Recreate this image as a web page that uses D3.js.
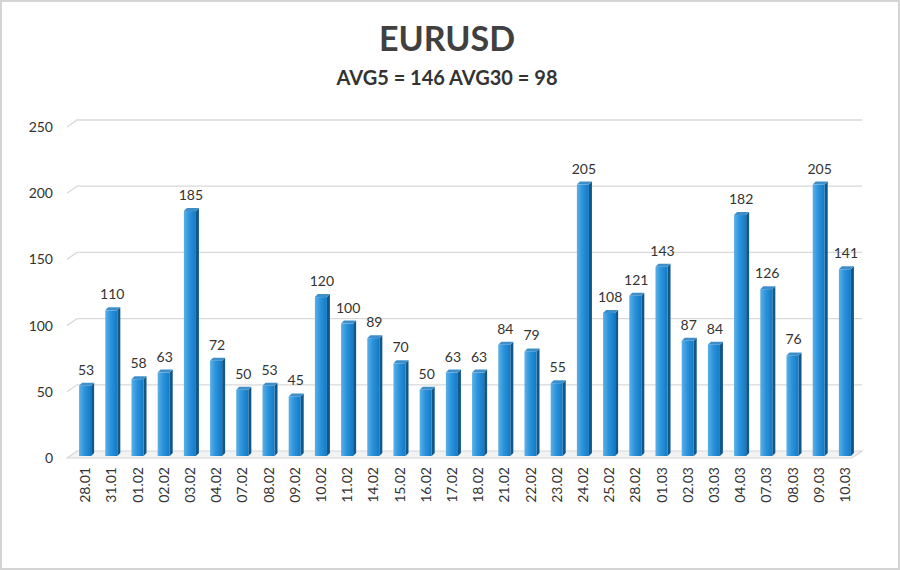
<!DOCTYPE html>
<html>
<head>
<meta charset="utf-8">
<script src="https://cdn.jsdelivr.net/npm/d3@7"></script>
<style>
  body { margin: 0; background: #fff; }
  svg { display: block; }
</style>
</head>
<body>
<script>
// data
var dates = ["28.01","31.01","01.02","02.02","03.02","04.02","07.02","08.02","09.02","10.02",
             "11.02","14.02","15.02","16.02","17.02","18.02","21.02","22.02","23.02","24.02",
             "25.02","28.02","01.03","02.03","03.03","04.03","07.03","08.03","09.03","10.03"];
var values = [53,110,58,63,185,72,50,53,45,120,
              100,89,70,50,63,63,84,79,55,205,
              108,121,143,87,84,182,126,76,205,141];
var yTicks = [0,50,100,150,200,250];
var title = "EURUSD";
var subtitle = "AVG5 = 146 AVG30 = 98";

var W = 900, H = 570;
var font = "Lato, 'Open Sans', sans-serif";

var svg = d3.select("body").append("svg")
    .attr("width", W)
    .attr("height", H);

// frame
svg.append("rect")
    .attr("x", 1).attr("y", 1)
    .attr("width", W - 2).attr("height", H - 2)
    .attr("fill", "#fff")
    .attr("stroke", "#d4d4d4")
    .attr("stroke-width", 2);

// gradient for the bar fronts
var defs = svg.append("defs");
var gFront = defs.append("linearGradient").attr("id", "front")
    .attr("x1", 0).attr("x2", 1).attr("y1", 0).attr("y2", 0);
gFront.append("stop").attr("offset", "0%").attr("stop-color", "#5db0e6");
gFront.append("stop").attr("offset", "45%").attr("stop-color", "#2b93dc");
gFront.append("stop").attr("offset", "100%").attr("stop-color", "#1479c4");

// titles
svg.append("text")
    .attr("x", 447).attr("y", 51)
    .attr("text-anchor", "middle")
    .attr("font-family", font)
    .attr("font-weight", "bold")
    .attr("font-size", 34)
    .attr("fill", "#404040")
    .text(title);

svg.append("text")
    .attr("x", 447).attr("y", 85)
    .attr("text-anchor", "middle")
    .attr("font-family", font)
    .attr("font-weight", "bold")
    .attr("font-size", 20)
    .attr("fill", "#333")
    .text(subtitle);

// scales
var x = d3.scaleBand()
    .domain(dates)
    .range([72, 858])
    .paddingInner(0.54)
    .paddingOuter(0.27);

var y = d3.scaleLinear()
    .domain([0, 250])
    .range([451, 120]);

var dx = 10, dy = 7; // depth offset of the back wall

// floor
svg.append("path")
    .attr("d", "M" + (77 - dx) + "," + (y(0) + dy) + "L77," + y(0) + "L862," + y(0) +
               "L" + (862 - dx) + "," + (y(0) + dy) + "Z")
    .attr("fill", "#f3f3f3")
    .attr("stroke", "#d6d6d6")
    .attr("stroke-width", 1.2);

// grid lines
svg.selectAll("path.grid")
    .data(yTicks.filter(function(d) { return d > 0; }))
    .enter()
    .append("path")
    .attr("class", "grid")
    .attr("d", function(d) {
        return "M" + (77 - dx) + "," + (y(d) + dy) + "L77," + y(d) + "L862," + y(d);
    })
    .attr("fill", "none")
    .attr("stroke", "#d9d9d9")
    .attr("stroke-width", 1.3);

// y tick labels
svg.selectAll("text.ytick")
    .data(yTicks)
    .enter()
    .append("text")
    .attr("class", "ytick")
    .attr("x", 53)
    .attr("y", function(d) { return y(d) + dy + 5; })
    .attr("text-anchor", "end")
    .attr("font-family", font)
    .attr("font-size", 14)
    .attr("fill", "#333")
    .text(function(d) { return d; });

// bars
var bw = x.bandwidth();
var side = 3, lift = 3;
var bars = svg.selectAll("g.bar")
    .data(values)
    .enter()
    .append("g")
    .attr("class", "bar");

// side face
bars.append("path")
    .attr("d", function(d, i) {
        var x0 = x(dates[i]) + bw, top = y(d) + 5, bot = y(0) + 5;
        return "M" + x0 + "," + top + "L" + (x0 + side) + "," + (top - lift) +
               "L" + (x0 + side) + "," + (bot - lift) + "L" + x0 + "," + bot + "Z";
    })
    .attr("fill", "#12578a");

// top face
bars.append("path")
    .attr("d", function(d, i) {
        var x0 = x(dates[i]), top = y(d) + 5;
        return "M" + x0 + "," + top + "L" + (x0 + side) + "," + (top - lift) +
               "L" + (x0 + bw + side) + "," + (top - lift) + "L" + (x0 + bw) + "," + top + "Z";
    })
    .attr("fill", "#3e8fc9");

// front face
bars.append("rect")
    .attr("x", function(d, i) { return x(dates[i]); })
    .attr("y", function(d) { return y(d) + 5; })
    .attr("width", bw)
    .attr("height", function(d) { return y(0) - y(d); })
    .attr("fill", "url(#front)");

// value labels
svg.selectAll("text.val")
    .data(values)
    .enter()
    .append("text")
    .attr("class", "val")
    .attr("x", function(d, i) { return x(dates[i]) + bw / 2 + 1; })
    .attr("y", function(d) { return y(d) - 6; })
    .attr("text-anchor", "middle")
    .attr("font-family", font)
    .attr("font-size", 14)
    .attr("fill", "#333")
    .text(function(d) { return d; });

// x labels
svg.selectAll("text.xlab")
    .data(dates)
    .enter()
    .append("text")
    .attr("class", "xlab")
    .attr("transform", function(d) {
        return "translate(" + (x(d) + bw / 2 + 5) + "," + 467 + ") rotate(-90)";
    })
    .attr("text-anchor", "end")
    .attr("font-family", font)
    .attr("font-size", 14)
    .attr("fill", "#333")
    .text(function(d) { return d; });
</script>
</body>
</html>
